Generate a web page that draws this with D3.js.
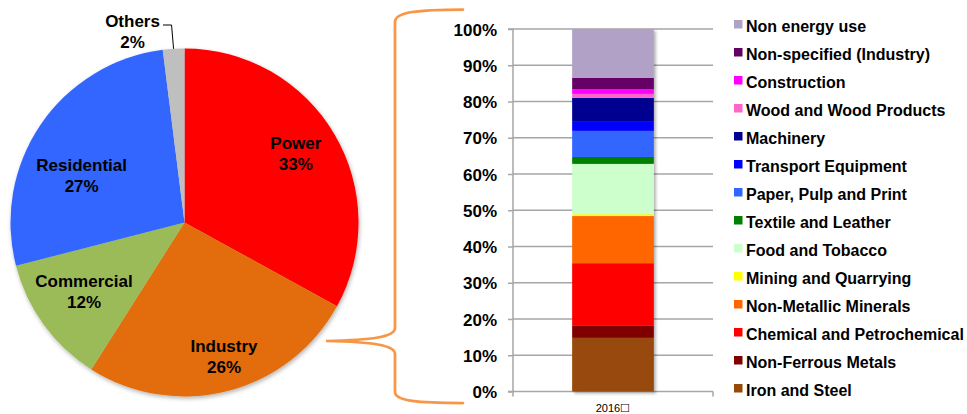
<!DOCTYPE html>
<html>
<head>
<meta charset="utf-8">
<script src="https://cdn.jsdelivr.net/npm/d3@7"></script>
<style>
  html, body { margin: 0; padding: 0; background: #fff; }
  svg { display: block; font-family: "Liberation Sans", Arial, sans-serif; }
</style>
</head>
<body>
<svg id="chart" width="967" height="414"></svg>
<script>
// Final energy consumption by sector (pie)
const sectorNames = ["Power", "Industry", "Commercial", "Residential", "Others"];
const sectorShares = [33, 26, 12, 27, 2];
const sectorColors = ["#FF0000", "#E36C0A", "#9BBB59", "#3366FF", "#BFBFBF"];

// Industry breakdown (stacked bar), bottom to top
const industryNames = [
  "Iron and Steel", "Non-Ferrous Metals", "Chemical and Petrochemical",
  "Non-Metallic Minerals", "Mining and Quarrying", "Food and Tobacco",
  "Textile and Leather", "Paper, Pulp and Print", "Transport Equipment",
  "Machinery", "Wood and Wood Products", "Construction",
  "Non-specified (Industry)", "Non energy use"
];
const industryShares = [14.8, 3.3, 17.3, 13.0, 0.5, 13.9, 1.9, 7.2, 2.7, 6.4, 1.1, 1.3, 3.1, 13.5];
const industryColors = [
  "#984807", "#800000", "#FF0000", "#FF6600", "#FFFF00", "#CCFFCC",
  "#008000", "#3366FF", "#0000FF", "#000090", "#FF66CC", "#FF00FF",
  "#660066", "#B2A1C7"
];
const barCategories = ["2016\u2610"];
const yTickValues = [0, 0.1, 0.2, 0.3, 0.4, 0.5, 0.6, 0.7, 0.8, 0.9, 1.0];

const svg = d3.select("#chart");
const defs = svg.append("defs");

defs.append("filter").attr("id", "pieShadow")
  .attr("x", "-10%").attr("y", "-10%").attr("width", "120%").attr("height", "120%")
  .append("feDropShadow")
  .attr("dx", 1).attr("dy", 2).attr("stdDeviation", 2)
  .attr("flood-color", "#000").attr("flood-opacity", 0.3);

defs.append("filter").attr("id", "barShadow")
  .attr("x", "-10%").attr("y", "-10%").attr("width", "130%").attr("height", "120%")
  .append("feDropShadow")
  .attr("dx", 2).attr("dy", 2).attr("stdDeviation", 1.5)
  .attr("flood-color", "#000").attr("flood-opacity", 0.3);

// ---------- Pie ----------
const pieCx = 184.5, pieCy = 222.5, pieR = 174;
const pieData = d3.pie().sort(null).value(d => d)(sectorShares);
const arc = d3.arc().innerRadius(0).outerRadius(pieR);

const pieG = svg.append("g").attr("transform", `translate(${pieCx},${pieCy})`);
pieG.append("g").attr("filter", "url(#pieShadow)")
  .selectAll("path").data(pieData).join("path")
  .attr("d", arc)
  .attr("fill", (d, i) => sectorColors[i]);

// label placement: [distance as fraction of radius, angle nudge in degrees]
const labelPlace = [[0.753, -1.2], [0.804, -2.0], [0.70, 1.6], [0.649, -9.8], [1.139, 0]];
const labelFont = 17;
pieData.forEach((d, i) => {
  let ang = (d.startAngle + d.endAngle) / 2 + labelPlace[i][1] * Math.PI / 180;
  const r = pieR * labelPlace[i][0];
  if (i === 4) ang = 344.8 * Math.PI / 180;
  const x = r * Math.sin(ang), y = -r * Math.cos(ang);
  const t = pieG.append("text")
    .attr("text-anchor", "middle")
    .attr("font-size", labelFont).attr("font-weight", "bold").attr("fill", "#000");
  t.append("tspan").attr("x", x).attr("y", y - 4.5).text(sectorNames[i]);
  t.append("tspan").attr("x", x).attr("y", y + 16.5).text(d.data + "%");
});

// leader line for the small slice
{
  const d = pieData[4];
  const mid = (d.startAngle + d.endAngle) / 2;
  const ex = pieR * Math.sin(mid), ey = -pieR * Math.cos(mid);
  pieG.append("path")
    .attr("d", `M${-21.5},${-197.5} L${ex - 2},${-197.5} L${ex},${ey}`)
    .attr("fill", "none").attr("stroke", "#000").attr("stroke-width", 1);
}

// ---------- Brace linking Industry to its breakdown ----------
svg.append("path")
  .attr("d", "M463,9.5 C418,9.5 395,12 395,22 L395,328 C395,337 372,340 326,341 " +
             "C372,342 395,345 395,354 L395,392 C395,401 418,403 463,403")
  .attr("fill", "none").attr("stroke", "#F79646").attr("stroke-width", 2.75)
  .attr("stroke-linecap", "round");

// ---------- Stacked bar ----------
const plotLeft = 513, plotRight = 713, plotTop = 29, plotBottom = 391.5;
const x = d3.scaleBand().domain(barCategories).range([plotLeft, plotRight]).padding(0.42);
const y = d3.scaleLinear().domain([0, 1]).range([plotBottom, plotTop]);
const gridColor = "#A6A6A6";

// gridlines
svg.append("g").selectAll("line").data(yTickValues).join("line")
  .attr("x1", plotLeft).attr("x2", plotRight)
  .attr("y1", d => y(d)).attr("y2", d => y(d))
  .attr("stroke", gridColor).attr("stroke-width", 1.5);

// left axis
const yAxis = svg.append("g").attr("transform", `translate(${plotLeft},0)`)
  .call(d3.axisLeft(y).tickValues(yTickValues).tickSize(5).tickPadding(11)
    .tickFormat(d3.format(".0%")));
yAxis.select(".domain").attr("stroke", gridColor).attr("stroke-width", 1.5)
  .attr("d", `M-5,${plotTop}H0V${plotBottom}H-5`);
yAxis.selectAll(".tick line").attr("stroke", gridColor).attr("stroke-width", 1.5);
yAxis.selectAll(".tick text")
  .attr("font-family", "'Liberation Sans', Arial, sans-serif")
  .attr("font-size", 17).attr("font-weight", "bold").attr("fill", "#000")
  .attr("dy", "0.36em");

// bottom axis ticks at the category boundaries
svg.append("g").selectAll("line").data([plotLeft, plotRight]).join("line")
  .attr("x1", d => d).attr("x2", d => d)
  .attr("y1", plotBottom).attr("y2", plotBottom + 5)
  .attr("stroke", gridColor).attr("stroke-width", 1.5);

// stacked segments
const stackRows = [Object.fromEntries(industryNames.map((n, i) => [n, industryShares[i] / 100]))];
const series = d3.stack().keys(industryNames)(stackRows);
svg.append("g").attr("filter", "url(#barShadow)")
  .selectAll("rect").data(series).join("rect")
  .attr("x", x(barCategories[0]))
  .attr("width", x.bandwidth())
  .attr("y", d => y(d[0][1]))
  .attr("height", d => y(d[0][0]) - y(d[0][1]))
  .attr("fill", (d, i) => industryColors[i]);

// category label
svg.append("text")
  .attr("x", x(barCategories[0]) + x.bandwidth() / 2).attr("y", 412)
  .attr("text-anchor", "middle").attr("font-size", 11).attr("fill", "#000")
  .text(barCategories[0]);

// ---------- Legend (top to bottom = top of stack first) ----------
const legendItems = industryNames.map((n, i) => ({ name: n, color: industryColors[i] })).reverse();
const legendY = d3.scalePoint().domain(legendItems.map(d => d.name)).range([32, 396]);
const legend = svg.append("g");
const rows = legend.selectAll("g").data(legendItems).join("g")
  .attr("transform", d => `translate(734,${legendY(d.name)})`);
rows.append("rect").attr("x", 0).attr("y", -12).attr("width", 8.5).attr("height", 8.5)
  .attr("fill", d => d.color);
rows.append("text").attr("x", 12).attr("y", 0)
  .attr("font-size", 16).attr("font-weight", "bold").attr("fill", "#000")
  .text(d => d.name);
</script>
</body>
</html>
